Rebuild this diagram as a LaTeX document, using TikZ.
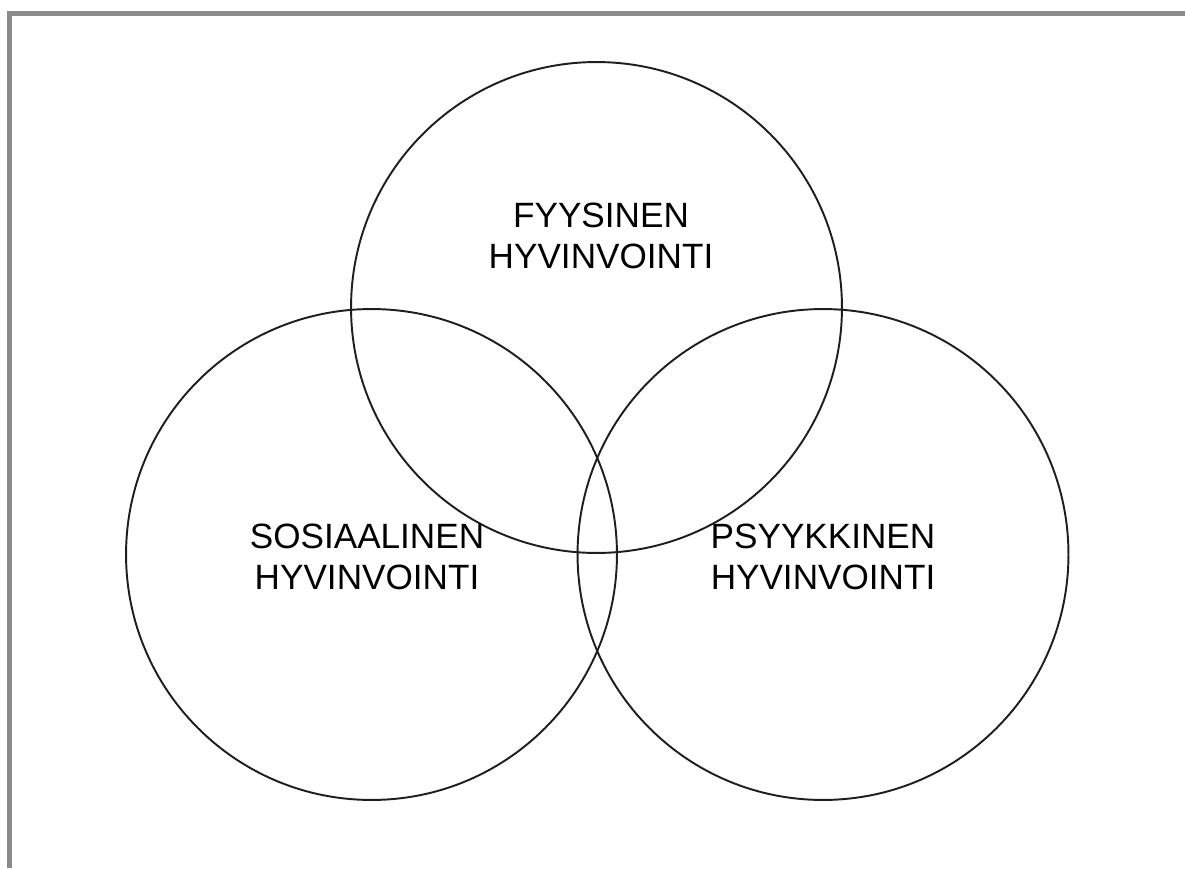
\documentclass[tikz,border=0pt]{standalone}
\usepackage{fontspec}
\setmainfont{Liberation Sans}
\begin{document}
\begin{tikzpicture}[x=0.02cm,y=-0.02cm]

\definecolor{framegray}{RGB}{138, 138, 138}
\definecolor{linegray}{RGB}{30, 30, 30}
\tikzset{
  area/.style={draw=linegray, circle, line width=1.1pt, minimum size=9.82cm, inner sep=0pt, outer sep=0pt},
  label/.style={align=center, font=\fontsize{20}{23.5}\selectfont}
}

\useasboundingbox (0,0) rectangle (1185,868);

% Draw the frame
\draw[framegray, line width=3pt] (9.5,868) -- (9.5,13.5) -- (1185,13.5);

% Draw the circles
\node[area] (F) at (596.5,307.5) {};
\node[area] (S) at (371.5,554.5) {};
\node[area] (P) at (823,554.5) {};

% Draw the texts
\node[label] (Ft) at (601,236) {FYYSINEN\\HYVINVOINTI};
\node[label] (St) at (367,557) {SOSIAALINEN\\HYVINVOINTI};
\node[label] (Pt) at (823,557) {PSYYKKINEN\\HYVINVOINTI};

\end{tikzpicture}
\end{document}
